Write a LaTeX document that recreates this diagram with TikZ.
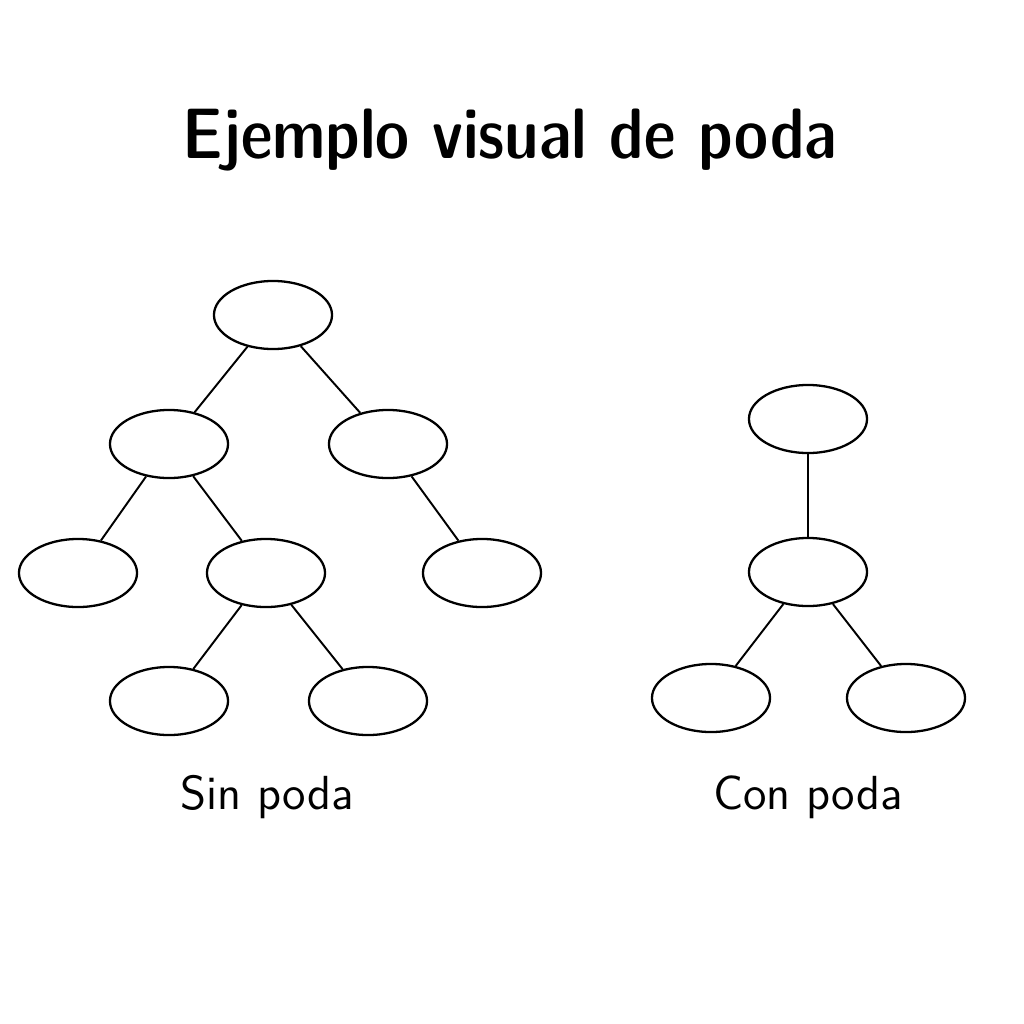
\documentclass[tikz,border=0pt]{standalone}
\usetikzlibrary{shapes.geometric}
\begin{document}
\begin{tikzpicture}[x=0.01cm,y=-0.01cm,
  tn/.style={draw,ellipse,line width=0.65pt,minimum width=1.18cm,minimum height=0.68cm,inner sep=0pt},
  edge/.style={line width=0.55pt},
  lbl/.style={font=\sffamily\fontsize{13.6}{16}\selectfont}]
\useasboundingbox (0,0) rectangle (1024,1024);
\node[font=\sffamily\fontseries{sbc}\fontsize{20.3}{24}\selectfont] (title) at (510,140) {Ejemplo visual de poda};
% left tree
\node[tn] (a) at (273,315) {};
\node[tn] (b) at (169,444) {};
\node[tn] (c) at (388,444) {};
\node[tn] (d) at (78,573) {};
\node[tn] (e) at (266,573) {};
\node[tn] (f) at (482,573) {};
\node[tn] (g) at (169,701) {};
\node[tn] (h) at (368,701) {};
\draw[edge] (a) -- (b);
\draw[edge] (a) -- (c);
\draw[edge] (b) -- (d);
\draw[edge] (b) -- (e);
\draw[edge] (c) -- (f);
\draw[edge] (e) -- (g);
\draw[edge] (e) -- (h);
% right tree
\node[tn] (p) at (808,419) {};
\node[tn] (q) at (808,572) {};
\node[tn] (r) at (711,698) {};
\node[tn] (s) at (906,698) {};
\draw[edge] (p) -- (q);
\draw[edge] (q) -- (r);
\draw[edge] (q) -- (s);
\node[lbl] (l1) at (267,797) {Sin poda};
\node[lbl] (l2) at (808,797) {Con poda};
\end{tikzpicture}
\end{document}
